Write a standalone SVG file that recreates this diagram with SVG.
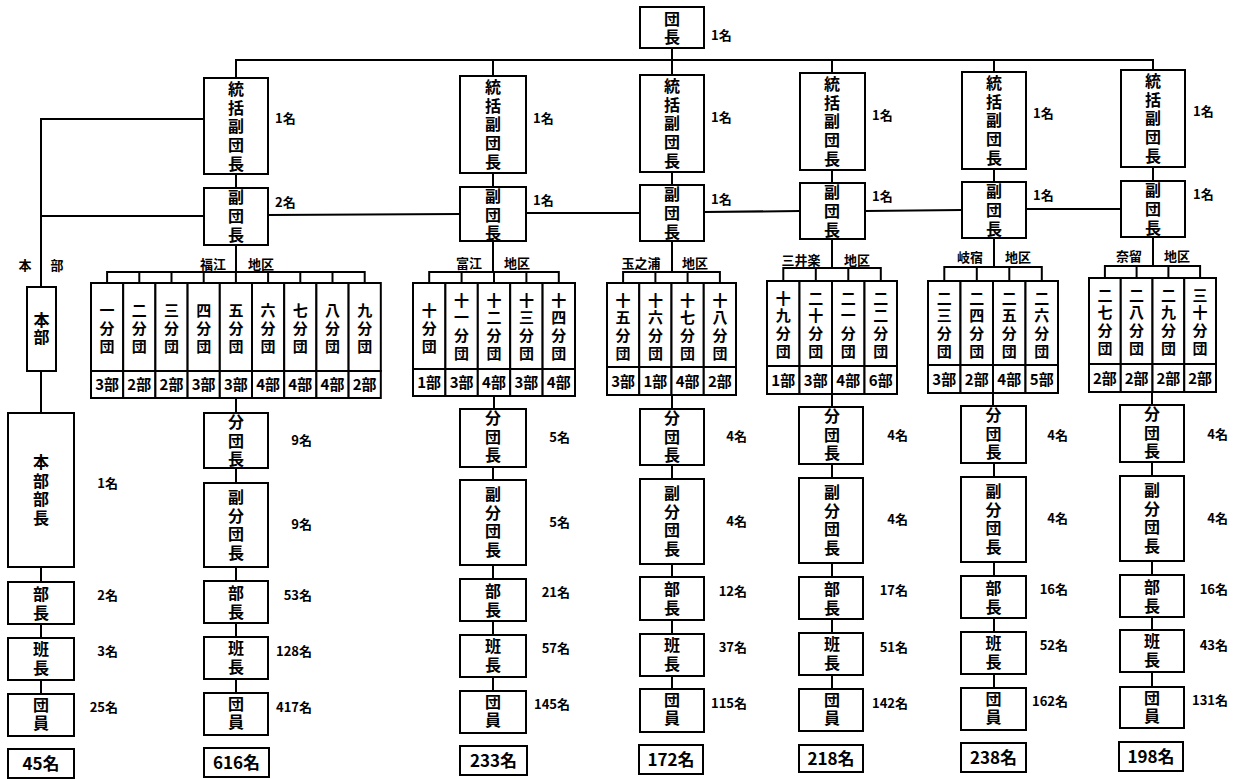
<svg xmlns="http://www.w3.org/2000/svg" width="1240" height="779" viewBox="0 0 1240 779">
<style>
.b{fill:#fff;stroke:#000;stroke-width:2}
.c{fill:none;stroke:#000;stroke-width:2}
text{font-family:"Noto Sans CJK JP","Noto Sans CJK SC",sans-serif;font-weight:bold;fill:#000}
.v{font-size:16px;writing-mode:vertical-rl;text-anchor:start}
.s5{letter-spacing:2.7px}
.s3{letter-spacing:3px}
.s2{letter-spacing:2px}
.u{font-size:15px;writing-mode:vertical-rl;text-anchor:start;letter-spacing:3px}
.u4{font-size:15px;writing-mode:vertical-rl;text-anchor:start;letter-spacing:2.7px}
.k{font-size:15px;text-anchor:middle}
.n{font-size:13px}
.r{font-size:13px;text-anchor:end}
.a{font-size:13px;text-anchor:middle}
.t{font-size:17px;text-anchor:middle}
</style>
<rect width="1240" height="779" fill="#fff"/>

<g id="connectors">
<path class="c" d="M236,78 V60 H1153 V70 M493,60 V76 M672,48 V75 M832,60 V73 M994,60 V72"/>
<path class="c" d="M236,174 V188 M493,173 V187 M672,172 V185 M832,170 V183 M994,169 V182 M1153,167 V181"/>
<path class="c" d="M204,119 H41 V287 M204,216 H41 M41,371 V413 M41,567 V582 M41,624 V638 M41,680 V694"/>
<path class="c" d="M268,215 L460,214 M526,213 L640,213 M704,212 L800,211 M865,211 L962,210 M1026,209 L1121,209"/>
<path class="c" d="M236,245 V272 M107.1,283 V272 H364.7 V283 M139.3,272 V283 M171.5,272 V283 M203.7,272 V283 M235.9,272 V283 M268.1,272 V283 M300.3,272 V283 M332.5,272 V283"/>
<path class="c" d="M493,241 V272 M429.2,283 V272 H558.8 V283 M461.6,272 V283 M494,272 V283 M526.4,272 V283"/>
<path class="c" d="M672,241 V272 M623.1,283 V272 H719.9 V283 M655.4,272 V283 M687.6,272 V283"/>
<path class="c" d="M832,239 V268 M783.3,281 V268 H880.8 V281 M815.8,268 V281 M848.3,268 V281"/>
<path class="c" d="M994,238 V267 M944.3,281 V267 H1041.8 V281 M976.8,267 V281 M1009.3,267 V281"/>
<path class="c" d="M1153,237 V266 M1104.9,278 V266 H1200.1 V278 M1136.6,266 V278 M1168.4,266 V278"/>
<path class="c" d="M236,398 V413 M236,468 V483 M236,567 V581 M236,623 V637 M236,679 V693"/>
<path class="c" d="M494,396 V409 M493,467 V480 M493,565 V579 M493,621 V635 M493,677 V691"/>
<path class="c" d="M672,395 V409 M672,465 V479 M672,564 V577 M672,620 V634 M672,676 V689"/>
<path class="c" d="M832,394 V407 M832,464 V478 M832,563 V577 M832,619 V633 M832,675 V689"/>
<path class="c" d="M993,393 V406 M994,463 V477 M994,562 V576 M994,618 V632 M994,674 V688"/>
<path class="c" d="M1152,392 V405 M1152,462 V476 M1152,561 V575 M1152,617 V630 M1152,672 V687"/>
</g>

<g id="dancho">
<rect class="b" x="640" y="7" width="64" height="41"/>
<text class="v s2" x="672" y="11">団長</text>
<text class="n" x="711" y="40">1名</text>
</g>

<!-- 本部 -->
<g id="honbu-label"><text class="a" x="25" y="270">本</text><text class="a" x="57" y="270">部</text></g>
<g id="honbu">
<rect class="b" x="27" y="287" width="29" height="84"/>
<text class="v" x="41.5" y="312" style="letter-spacing:1px">本部</text>
</g>
<g id="honbu-bucho">
<rect class="b" x="8" y="413" width="66" height="154"/>
<text class="v s5" x="41" y="454">本部部長</text>
<text class="r" x="118" y="488">1名</text>
</g>
<g id="honbu-bucho2">
<rect class="b" x="8" y="582" width="66" height="42"/>
<text class="v s3" x="41" y="586">部長</text>
<text class="r" x="118" y="600">2名</text>
</g>
<g id="honbu-hancho">
<rect class="b" x="8" y="638" width="66" height="42"/>
<text class="v s3" x="41" y="641">班長</text>
<text class="r" x="118" y="656">3名</text>
</g>
<g id="honbu-danin">
<rect class="b" x="8" y="694" width="66" height="42"/>
<text class="v s2" x="41" y="697">団員</text>
<text class="r" x="118" y="712">25名</text>
</g>
<g id="honbu-total"><rect class="b" x="8" y="749" width="66" height="29"/><text class="t" x="41" y="770">45名</text></g>

<!-- Column 1 福江 -->
<g id="c1-tokatsu">
<rect class="b" x="204" y="78" width="64" height="96"/>
<text class="v s5" x="236" y="81">統括副団長</text>
<text class="n" x="275" y="123">1名</text>
</g>
<g id="c1-fuku">
<rect class="b" x="204" y="188" width="64" height="57"/>
<text class="v s3" x="236" y="189">副団長</text>
<text class="n" x="275" y="207">2名</text>
</g>
<g id="c1-area"><text class="a" x="213" y="269">福江</text><text class="a" x="261" y="269">地区</text></g>
<g id="c1-units">
<g id="u1"><rect class="b" x="91" y="283" width="32.2" height="88"/><rect class="b" x="91" y="371" width="32.2" height="27"/><text class="u" x="107.1" y="302.5">一分団</text><text class="k" x="107.1" y="390">3部</text></g>
<g id="u2"><rect class="b" x="123.2" y="283" width="32.2" height="88"/><rect class="b" x="123.2" y="371" width="32.2" height="27"/><text class="u" x="139.3" y="302.5">二分団</text><text class="k" x="139.3" y="390">2部</text></g>
<g id="u3"><rect class="b" x="155.4" y="283" width="32.2" height="88"/><rect class="b" x="155.4" y="371" width="32.2" height="27"/><text class="u" x="171.5" y="302.5">三分団</text><text class="k" x="171.5" y="390">2部</text></g>
<g id="u4"><rect class="b" x="187.6" y="283" width="32.2" height="88"/><rect class="b" x="187.6" y="371" width="32.2" height="27"/><text class="u" x="203.7" y="302.5">四分団</text><text class="k" x="203.7" y="390">3部</text></g>
<g id="u5"><rect class="b" x="219.8" y="283" width="32.2" height="88"/><rect class="b" x="219.8" y="371" width="32.2" height="27"/><text class="u" x="235.9" y="302.5">五分団</text><text class="k" x="235.9" y="390">3部</text></g>
<g id="u6"><rect class="b" x="252" y="283" width="32.2" height="88"/><rect class="b" x="252" y="371" width="32.2" height="27"/><text class="u" x="268.1" y="302.5">六分団</text><text class="k" x="268.1" y="390">4部</text></g>
<g id="u7"><rect class="b" x="284.2" y="283" width="32.2" height="88"/><rect class="b" x="284.2" y="371" width="32.2" height="27"/><text class="u" x="300.3" y="302.5">七分団</text><text class="k" x="300.3" y="390">4部</text></g>
<g id="u8"><rect class="b" x="316.4" y="283" width="32.2" height="88"/><rect class="b" x="316.4" y="371" width="32.2" height="27"/><text class="u" x="332.5" y="302.5">八分団</text><text class="k" x="332.5" y="390">4部</text></g>
<g id="u9"><rect class="b" x="348.6" y="283" width="32.2" height="88"/><rect class="b" x="348.6" y="371" width="32.2" height="27"/><text class="u" x="364.7" y="302.5">九分団</text><text class="k" x="364.7" y="390">2部</text></g>
</g>
<g id="c1-bundancho"><rect class="b" x="204" y="413" width="64" height="55"/><text class="v" x="236" y="414" style="letter-spacing:2.5px">分団長</text><text class="r" x="312" y="445">9名</text></g>
<g id="c1-fukubundancho"><rect class="b" x="204" y="483" width="64" height="84"/><text class="v s5" x="236" y="489">副分団長</text><text class="r" x="312" y="529">9名</text></g>
<g id="c1-bucho"><rect class="b" x="204" y="581" width="64" height="42"/><text class="v s3" x="236" y="585">部長</text><text class="r" x="312" y="600">53名</text></g>
<g id="c1-hancho"><rect class="b" x="204" y="637" width="64" height="42"/><text class="v s3" x="236" y="640">班長</text><text class="r" x="312" y="656">128名</text></g>
<g id="c1-danin"><rect class="b" x="204" y="693" width="64" height="42"/><text class="v s2" x="236" y="696">団員</text><text class="r" x="312" y="712">417名</text></g>
<g id="c1-total"><rect class="b" x="204" y="748" width="65" height="29"/><text class="t" x="236.5" y="769">616名</text></g>

<!-- Column 2 富江 -->
<g id="c2-tokatsu">
<rect class="b" x="460" y="76" width="66" height="97"/>
<text class="v s5" x="493" y="79">統括副団長</text>
<text class="n" x="533" y="123">1名</text>
</g>
<g id="c2-fuku">
<rect class="b" x="460" y="187" width="66" height="54"/>
<text class="v" x="493" y="188" style="letter-spacing:2.5px">副団長</text>
<text class="n" x="533" y="205">1名</text>
</g>
<g id="c2-area"><text class="a" x="469" y="268">富江</text><text class="a" x="517" y="268">地区</text></g>
<g id="c2-units">
<g id="u10"><rect class="b" x="413" y="283" width="32.4" height="86"/><rect class="b" x="413" y="369" width="32.4" height="27"/><text class="u" x="429.2" y="302.5">十分団</text><text class="k" x="429.2" y="388">1部</text></g>
<g id="u11"><rect class="b" x="445.4" y="283" width="32.4" height="86"/><rect class="b" x="445.4" y="369" width="32.4" height="27"/><text class="u4" x="461.6" y="292.5">十一分団</text><text class="k" x="461.6" y="388">3部</text></g>
<g id="u12"><rect class="b" x="477.8" y="283" width="32.4" height="86"/><rect class="b" x="477.8" y="369" width="32.4" height="27"/><text class="u4" x="494" y="292.5">十二分団</text><text class="k" x="494" y="388">4部</text></g>
<g id="u13"><rect class="b" x="510.2" y="283" width="32.4" height="86"/><rect class="b" x="510.2" y="369" width="32.4" height="27"/><text class="u4" x="526.4" y="292.5">十三分団</text><text class="k" x="526.4" y="388">3部</text></g>
<g id="u14"><rect class="b" x="542.6" y="283" width="32.4" height="86"/><rect class="b" x="542.6" y="369" width="32.4" height="27"/><text class="u4" x="558.8" y="292.5">十四分団</text><text class="k" x="558.8" y="388">4部</text></g>
</g>
<g id="c2-bundancho"><rect class="b" x="460" y="409" width="66" height="58"/><text class="v" x="493" y="410" style="letter-spacing:2.5px">分団長</text><text class="r" x="570" y="442">5名</text></g>
<g id="c2-fukubundancho"><rect class="b" x="460" y="480" width="66" height="85"/><text class="v s5" x="493" y="486">副分団長</text><text class="r" x="570" y="527">5名</text></g>
<g id="c2-bucho"><rect class="b" x="460" y="579" width="66" height="42"/><text class="v s3" x="493" y="583">部長</text><text class="r" x="570" y="597">21名</text></g>
<g id="c2-hancho"><rect class="b" x="460" y="635" width="66" height="42"/><text class="v s3" x="493" y="638">班長</text><text class="r" x="570" y="653">57名</text></g>
<g id="c2-danin"><rect class="b" x="460" y="691" width="66" height="42"/><text class="v s2" x="493" y="694">団員</text><text class="r" x="570" y="709">145名</text></g>
<g id="c2-total"><rect class="b" x="460" y="746" width="67" height="29"/><text class="t" x="493.5" y="767">233名</text></g>

<!-- Column 3 玉之浦 -->
<g id="c3-tokatsu">
<rect class="b" x="640" y="75" width="64" height="97"/>
<text class="v s5" x="672" y="78">統括副団長</text>
<text class="n" x="711" y="122">1名</text>
</g>
<g id="c3-fuku">
<rect class="b" x="640" y="185" width="64" height="56"/>
<text class="v s3" x="672" y="186">副団長</text>
<text class="n" x="711" y="204">1名</text>
</g>
<g id="c3-area"><text class="a" x="641" y="268">玉之浦</text><text class="a" x="695" y="268">地区</text></g>
<g id="c3-units">
<g id="u15"><rect class="b" x="607" y="283" width="32.25" height="84"/><rect class="b" x="607" y="367" width="32.25" height="28"/><text class="u4" x="623.1" y="292.5">十五分団</text><text class="k" x="623.1" y="387">3部</text></g>
<g id="u16"><rect class="b" x="639.25" y="283" width="32.25" height="84"/><rect class="b" x="639.25" y="367" width="32.25" height="28"/><text class="u4" x="655.4" y="292.5">十六分団</text><text class="k" x="655.4" y="387">1部</text></g>
<g id="u17"><rect class="b" x="671.5" y="283" width="32.25" height="84"/><rect class="b" x="671.5" y="367" width="32.25" height="28"/><text class="u4" x="687.6" y="292.5">十七分団</text><text class="k" x="687.6" y="387">4部</text></g>
<g id="u18"><rect class="b" x="703.75" y="283" width="32.25" height="84"/><rect class="b" x="703.75" y="367" width="32.25" height="28"/><text class="u4" x="719.9" y="292.5">十八分団</text><text class="k" x="719.9" y="387">2部</text></g>
</g>
<g id="c3-bundancho"><rect class="b" x="640" y="409" width="64" height="56"/><text class="v" x="672" y="410" style="letter-spacing:2.5px">分団長</text><text class="r" x="747" y="441">4名</text></g>
<g id="c3-fukubundancho"><rect class="b" x="640" y="479" width="64" height="85"/><text class="v s5" x="672" y="485">副分団長</text><text class="r" x="747" y="526">4名</text></g>
<g id="c3-bucho"><rect class="b" x="640" y="577" width="64" height="43"/><text class="v s3" x="672" y="581">部長</text><text class="r" x="747" y="596">12名</text></g>
<g id="c3-hancho"><rect class="b" x="640" y="634" width="64" height="42"/><text class="v s3" x="672" y="637">班長</text><text class="r" x="747" y="652">37名</text></g>
<g id="c3-danin"><rect class="b" x="640" y="689" width="64" height="43"/><text class="v s2" x="672" y="692">団員</text><text class="r" x="747" y="708">115名</text></g>
<g id="c3-total"><rect class="b" x="639" y="745" width="64" height="29"/><text class="t" x="671" y="766">172名</text></g>

<!-- Column 4 三井楽 -->
<g id="c4-tokatsu">
<rect class="b" x="800" y="73" width="65" height="97"/>
<text class="v s5" x="832" y="76">統括副団長</text>
<text class="n" x="872" y="120">1名</text>
</g>
<g id="c4-fuku">
<rect class="b" x="800" y="183" width="65" height="56"/>
<text class="v s3" x="832" y="184">副団長</text>
<text class="n" x="872" y="201">1名</text>
</g>
<g id="c4-area"><text class="a" x="801" y="265">三井楽</text><text class="a" x="857" y="265">地区</text></g>
<g id="c4-units">
<g id="u19"><rect class="b" x="767" y="281" width="32.5" height="85"/><rect class="b" x="767" y="366" width="32.5" height="28"/><text class="u4" x="783.3" y="290.5">十九分団</text><text class="k" x="783.3" y="386">1部</text></g>
<g id="u20"><rect class="b" x="799.5" y="281" width="32.5" height="85"/><rect class="b" x="799.5" y="366" width="32.5" height="28"/><text class="u4" x="815.8" y="290.5">二十分団</text><text class="k" x="815.8" y="386">3部</text></g>
<g id="u21"><rect class="b" x="832" y="281" width="32.5" height="85"/><rect class="b" x="832" y="366" width="32.5" height="28"/><text class="u4" x="848.3" y="290.5">二一分団</text><text class="k" x="848.3" y="386">4部</text></g>
<g id="u22"><rect class="b" x="864.5" y="281" width="32.5" height="85"/><rect class="b" x="864.5" y="366" width="32.5" height="28"/><text class="u4" x="880.8" y="290.5">二二分団</text><text class="k" x="880.8" y="386">6部</text></g>
</g>
<g id="c4-bundancho"><rect class="b" x="799" y="407" width="64" height="57"/><text class="v" x="832" y="408" style="letter-spacing:2.5px">分団長</text><text class="r" x="908" y="440">4名</text></g>
<g id="c4-fukubundancho"><rect class="b" x="799" y="478" width="64" height="85"/><text class="v s5" x="832" y="484">副分団長</text><text class="r" x="908" y="524">4名</text></g>
<g id="c4-bucho"><rect class="b" x="799" y="577" width="64" height="42"/><text class="v s3" x="832" y="581">部長</text><text class="r" x="908" y="595">17名</text></g>
<g id="c4-hancho"><rect class="b" x="799" y="633" width="64" height="42"/><text class="v s3" x="832" y="636">班長</text><text class="r" x="908" y="652">51名</text></g>
<g id="c4-danin"><rect class="b" x="799" y="689" width="64" height="42"/><text class="v s2" x="832" y="692">団員</text><text class="r" x="908" y="708">142名</text></g>
<g id="c4-total"><rect class="b" x="799" y="745" width="64" height="27"/><text class="t" x="831" y="765">218名</text></g>

<!-- Column 5 岐宿 -->
<g id="c5-tokatsu">
<rect class="b" x="962" y="72" width="64" height="97"/>
<text class="v s5" x="994" y="75">統括副団長</text>
<text class="n" x="1033" y="118">1名</text>
</g>
<g id="c5-fuku">
<rect class="b" x="962" y="182" width="64" height="56"/>
<text class="v s3" x="994" y="183">副団長</text>
<text class="n" x="1033" y="200">1名</text>
</g>
<g id="c5-area"><text class="a" x="970" y="262">岐宿</text><text class="a" x="1018" y="262">地区</text></g>
<g id="c5-units">
<g id="u23"><rect class="b" x="928" y="281" width="32.5" height="84"/><rect class="b" x="928" y="365" width="32.5" height="28"/><text class="u4" x="944.3" y="290.5">二三分団</text><text class="k" x="944.3" y="385">3部</text></g>
<g id="u24"><rect class="b" x="960.5" y="281" width="32.5" height="84"/><rect class="b" x="960.5" y="365" width="32.5" height="28"/><text class="u4" x="976.8" y="290.5">二四分団</text><text class="k" x="976.8" y="385">2部</text></g>
<g id="u25"><rect class="b" x="993" y="281" width="32.5" height="84"/><rect class="b" x="993" y="365" width="32.5" height="28"/><text class="u4" x="1009.3" y="290.5">二五分団</text><text class="k" x="1009.3" y="385">4部</text></g>
<g id="u26"><rect class="b" x="1025.5" y="281" width="32.5" height="84"/><rect class="b" x="1025.5" y="365" width="32.5" height="28"/><text class="u4" x="1041.8" y="290.5">二六分団</text><text class="k" x="1041.8" y="385">5部</text></g>
</g>
<g id="c5-bundancho"><rect class="b" x="961" y="406" width="65" height="57"/><text class="v" x="993.5" y="407" style="letter-spacing:2.5px">分団長</text><text class="r" x="1068" y="440">4名</text></g>
<g id="c5-fukubundancho"><rect class="b" x="961" y="477" width="65" height="85"/><text class="v s5" x="993.5" y="483">副分団長</text><text class="r" x="1068" y="523">4名</text></g>
<g id="c5-bucho"><rect class="b" x="961" y="576" width="65" height="42"/><text class="v s3" x="993.5" y="580">部長</text><text class="r" x="1068" y="594">16名</text></g>
<g id="c5-hancho"><rect class="b" x="961" y="632" width="65" height="42"/><text class="v s3" x="993.5" y="635">班長</text><text class="r" x="1068" y="650">52名</text></g>
<g id="c5-danin"><rect class="b" x="961" y="688" width="65" height="42"/><text class="v s2" x="993.5" y="691">団員</text><text class="r" x="1068" y="706">162名</text></g>
<g id="c5-total"><rect class="b" x="961" y="743" width="65" height="29"/><text class="t" x="993.5" y="764">238名</text></g>

<!-- Column 6 奈留 -->
<g id="c6-tokatsu">
<rect class="b" x="1121" y="70" width="64" height="97"/>
<text class="v s5" x="1153" y="73">統括副団長</text>
<text class="n" x="1193" y="116">1名</text>
</g>
<g id="c6-fuku">
<rect class="b" x="1121" y="181" width="64" height="56"/>
<text class="v s3" x="1153" y="182">副団長</text>
<text class="n" x="1193" y="199">1名</text>
</g>
<g id="c6-area"><text class="a" x="1129" y="261">奈留</text><text class="a" x="1177" y="261">地区</text></g>
<g id="c6-units">
<g id="u27"><rect class="b" x="1089" y="278" width="31.75" height="86"/><rect class="b" x="1089" y="364" width="31.75" height="28"/><text class="u4" x="1104.9" y="287.5">二七分団</text><text class="k" x="1104.9" y="384">2部</text></g>
<g id="u28"><rect class="b" x="1120.75" y="278" width="31.75" height="86"/><rect class="b" x="1120.75" y="364" width="31.75" height="28"/><text class="u4" x="1136.6" y="287.5">二八分団</text><text class="k" x="1136.6" y="384">2部</text></g>
<g id="u29"><rect class="b" x="1152.5" y="278" width="31.75" height="86"/><rect class="b" x="1152.5" y="364" width="31.75" height="28"/><text class="u4" x="1168.4" y="287.5">二九分団</text><text class="k" x="1168.4" y="384">2部</text></g>
<g id="u30"><rect class="b" x="1184.25" y="278" width="31.75" height="86"/><rect class="b" x="1184.25" y="364" width="31.75" height="28"/><text class="u4" x="1200.1" y="287.5">三十分団</text><text class="k" x="1200.1" y="384">2部</text></g>
</g>
<g id="c6-bundancho"><rect class="b" x="1120" y="405" width="64" height="57"/><text class="v" x="1152" y="406" style="letter-spacing:2.5px">分団長</text><text class="r" x="1228" y="439">4名</text></g>
<g id="c6-fukubundancho"><rect class="b" x="1120" y="476" width="64" height="85"/><text class="v s5" x="1152" y="482">副分団長</text><text class="r" x="1228" y="523">4名</text></g>
<g id="c6-bucho"><rect class="b" x="1120" y="575" width="64" height="42"/><text class="v s3" x="1152" y="579">部長</text><text class="r" x="1228" y="594">16名</text></g>
<g id="c6-hancho"><rect class="b" x="1120" y="630" width="64" height="42"/><text class="v s3" x="1152" y="633">班長</text><text class="r" x="1228" y="650">43名</text></g>
<g id="c6-danin"><rect class="b" x="1120" y="687" width="64" height="41"/><text class="v s2" x="1152" y="690">団員</text><text class="r" x="1228" y="705">131名</text></g>
<g id="c6-total"><rect class="b" x="1119" y="742" width="64" height="29"/><text class="t" x="1151" y="763">198名</text></g>
</svg>
